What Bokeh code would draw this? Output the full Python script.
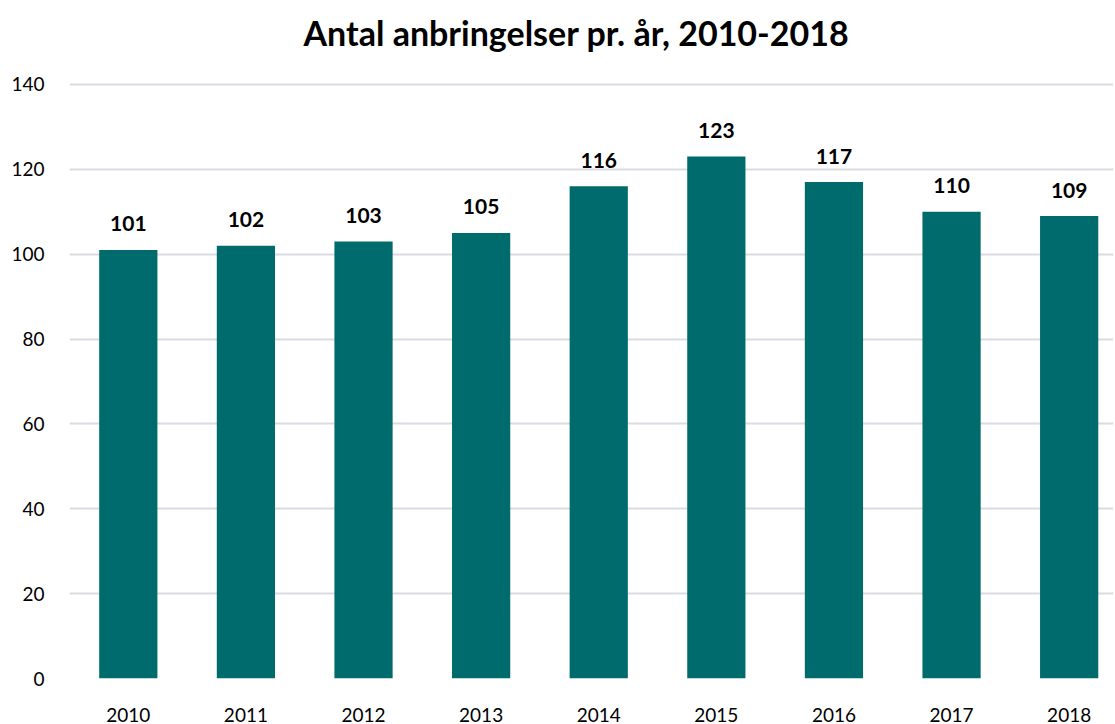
from bokeh.plotting import figure
from bokeh.models import ColumnDataSource, Range1d, FixedTicker, Title
from bokeh.embed import file_html
from bokeh.resources import INLINE
from bokeh.core.properties import value

years = ["2010", "2011", "2012", "2013", "2014", "2015", "2016", "2017", "2018"]
counts = [101, 102, 103, 105, 116, 123, 117, 110, 109]
y_ticks = [0, 20, 40, 60, 80, 100, 120, 140]

xs = list(range(len(years)))
src = ColumnDataSource(dict(x=xs, top=counts, label=[str(c) for c in counts]))

FONT = "Lato"
p = figure(width=1115, height=724, output_backend="svg", toolbar_location=None,
           x_range=Range1d(-0.5, 8.377), y_range=Range1d(0, 140.47),
           min_border_left=69, min_border_right=2, min_border_top=82, min_border_bottom=40)
p.title.text = ""
# spacer between frame and title, then the title itself
p.add_layout(Title(text=" ", text_font_size="1px", standoff=25), "above")
p.add_layout(Title(text="Antal anbringelser pr. år, 2010-2018", align="left", vertical_align="top",
                   text_font=FONT, text_font_size="34px", text_font_style="bold",
                   text_color="#000000", offset=234, standoff=0), "above")

p.vbar(x="x", top="top", width=0.495, bottom=0, source=src, color="#006b6c", line_color=None)
p.text(x="x", y="top", text="label", source=src, text_align="center", text_baseline="alphabetic",
       y_offset=-26, text_font=value(FONT), text_font_style="bold", text_font_size="21px",
       text_color="#000000")

p.xaxis.ticker = FixedTicker(ticks=xs)
p.xaxis.major_label_overrides = {i: y for i, y in enumerate(years)}
p.yaxis.ticker = FixedTicker(ticks=y_ticks)
for ax in (p.xaxis, p.yaxis):
    ax.axis_line_color = None
    ax.major_tick_line_color = None
    ax.minor_tick_line_color = None
    ax.major_label_text_font = FONT
    ax.major_label_text_font_size = "19px"
    ax.major_label_text_color = "#000000"
p.xaxis.major_label_standoff = 23
p.yaxis.major_label_standoff = 19
p.xgrid.grid_line_color = None
p.ygrid.ticker = FixedTicker(ticks=y_ticks)
p.ygrid.grid_line_color = "#d9dce1"
p.ygrid.grid_line_width = 2
p.outline_line_color = None
p.background_fill_color = "white"
p.border_fill_color = "white"

open("out.html", "w").write(file_html(p, INLINE))
